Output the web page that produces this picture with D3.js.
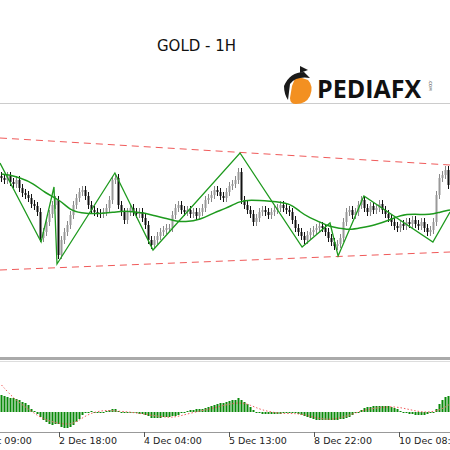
<!DOCTYPE html>
<html><head><meta charset="utf-8">
<script src="https://cdn.jsdelivr.net/npm/d3@7"></script>
<style>body{margin:0;background:#fff}svg{display:block}</style>
</head><body>
<svg id="chart" width="450" height="450"></svg>
<script>
// hourly closes, GOLD
var closes = [1784.4,1784,1784.8,1783.6,1783.2,1784,1782.4,1781.4,1781,1780.4,
  1779.2,1778.8,1777.6,1772.4,1773.6,1775.6,1777.2,1779,1780,1769,
  1772,1773.6,1775,1777,1779,1780.4,1781.6,1782,1780.8,1779,
  1778,1777.6,1777.4,1777.2,1777.6,1778.4,1780,1784,1784.4,1779,
  1777.6,1776,1777.6,1778.4,1777.6,1777.2,1777.6,1776.4,1775,1772,
  1771,1772,1772.8,1773.6,1774,1774.4,1774.4,1777,1778.4,1779,
  1778,1777.6,1778,1777.2,1777.6,1776.8,1777.6,1778.4,1780,1780.4,
  1781,1782,1781.6,1780.8,1780.4,1781.6,1782.8,1783.2,1784,1785.6,
  1780,1779,1778,1777.2,1775.6,1776.4,1777.6,1778,1777.6,1777,
  1777.6,1778,1778.4,1779,1778.4,1778,1777.6,1776,1774.4,1773.6,
  1772.8,1772,1773,1773.6,1774,1774.4,1774.8,1774.4,1773.6,1772.4,
  1771.6,1770.8,1771.2,1772.4,1775.6,1777.6,1778,1777,1777.6,1779,
  1780,1778.4,1777.6,1778.8,1778,1778.4,1779.2,1778,1777.2,1776.4,
  1775.6,1774.8,1774.4,1775.2,1774.8,1775.6,1775.2,1776,1775.2,1774.8,
  1775.6,1774.4,1773.6,1774,1775.6,1781,1784.4,1785,1786,1783];
var maIdx   = [0,2.8,6.2,10.5,14.5,19.5,22.8,26.2,32.8,37.8,41.2,44.5,47.8,51.2,54.5,57.8,61.2,66.2,71.2,74.5,79.5,82.8,89.5,96.2,99.5,102.8,106.2,109.5,112.8,116.2,119.5,124.5,129.5,132.8,137.8,142.8,146.2,149.5];
var maVal   = [1785.2,1785,1784.4,1783.4,1781.4,1780,1778,1777.4,1777.2,1777.6,1777.8,1777.6,1777.4,1776.8,1776.4,1775.8,1775.6,1776,1777.6,1778.2,1779.8,1780,1779.8,1779.4,1777.6,1776.4,1775.6,1774.6,1774.4,1774,1774.4,1775,1776,1777,1777.2,1777,1777.6,1778];
var zzIdx   = [-0.5,13.2,17.5,18.5,37.8,50.5,79.5,100.2,109.5,112.2,120.8,143.8,149.5];
var zzVal   = [1787.4,1771.6,1782.6,1767.2,1785.4,1770,1789.4,1770.6,1775.4,1768.8,1780.8,1771.6,1777.6];
var chanUp  = [[-0.5,1792.4],[149.5,1787]];
var chanDn  = [[-0.5,1766],[149.5,1769.6]];
var macd = [17,16,15,14,14,13,12,10,9,7, 3,1,-2,-5,-8,-10,-12,-13,-12,-12,
  -15,-16,-16,-15,-13,-10,-7,-3,-1,0, 1,0,-1,-1,0,1,2,3,3,1,
  0,-1,-1,-1,-1,-1,-2,-2,-3,-4, -6,-6,-6,-6,-5,-5,-5,-4,-4,-3,
  -1,0,1,2,2,3,3,3,4,5, 6,7,8,9,9,10,11,12,12,14,
  12,10,8,5,2,0,-1,-2,-2,-2, -2,-2,-2,-2,-1,-1,-1,0,-1,-2,
  -3,-4,-5,-6,-7,-8,-8,-8,-8,-8, -8,-8,-8,-7,-7,-6,-5,-3,-1,0,
  2,4,5,5,6,6,6,6,6,6, 5,4,3,1,0,-1,-2,-2,-3,-3,
  -3,-3,-2,-1,0,3,8,12,15,16];
var sigIdx = [0,4.5,9.5,13,18,23,26,29.5,34.5,38,43,49.5,56,59.5,64.5,69.5,74.5,79.5,83,86.5,93,99.5,104.5,109.5,114.5,119.5,124.5,131,136.5,141.5,146.5,149.5];
var sigVal = [27,12,2,-6,-11,-13,-8,-1,2,1,0,-3,-6,-4,0,3,7,10,7,2,-2,-1,-6,-8,-5,1,4,6,2,-1,2,8];
var tickIdx = [-9.2,19.2,47.5,75.8,104.2,132.5];
var tickLab = ["1 Dec 09:00","2 Dec 18:00","4 Dec 04:00","5 Dec 13:00","8 Dec 22:00","10 Dec 08:00"];

var svg = d3.select('#chart');
var x = d3.scaleLinear().domain([0,1]).range([1.5,4.5]);
var y = d3.scaleLinear().domain([1820,1760]).range([0,300]);
var ym = d3.scaleLinear().domain([-20,50]).range([432,362]);

// title + logo
svg.append('text').attr('x',157).attr('y',51).text('GOLD - 1H')
  .style('font-family','DejaVu Sans').style('font-size','15px').style('fill','#111');
svg.append('line').attr('x1',0).attr('x2',450).attr('y1',103.5).attr('y2',103.5).style('stroke','#ccc');
var logo = svg.append('g');
logo.append('path').attr('d','M296,76 L308,80 Q314,86 310,96 Q306,104 296,104 Q290,104 290,98 L292,86 Z').style('fill','#f39021');
logo.append('path').attr('d','M284,86 Q290,72 304,72 L310,78 Q296,76 290,84 L288,100 Q284,94 284,86 Z').style('fill','#1a1a1a');
logo.append('path').attr('d','M300,66 L308,70 L300,73 Z').style('fill','#1a1a1a');
logo.append('text').attr('x',317).attr('y',98).text('PEDIAFX')
  .style('font-family','Open Sans').style('font-weight','bold').style('font-size','25px').style('fill','#111');
logo.append('text').attr('transform','translate(429,80) rotate(90)').text('.COM')
  .style('font-family','DejaVu Sans').style('font-size','4px').style('fill','#333');

// channel
var cl = d3.line().x(d => x(d[0])).y(d => y(d[1]));
[chanUp, chanDn].forEach(function (c) {
  svg.append('path').attr('d', cl(c)).style('fill','none')
    .style('stroke','#f05a5a').style('stroke-dasharray','7,5').style('stroke-width',1);
});

// candles
var candles = closes.map(function (c, i) {
  var o = i ? closes[i-1] : c + 0.4;
  return {i: i, o: o, c: c, h: Math.max(o,c) + 0.8, l: Math.min(o,c) - 0.8};
});
var cg = svg.append('g').selectAll('g').data(candles).enter().append('g');
cg.append('line').attr('x1', d => x(d.i)).attr('x2', d => x(d.i))
  .attr('y1', d => y(d.h)).attr('y2', d => y(d.l))
  .style('stroke', d => d.c >= d.o ? '#888' : '#111');
cg.append('rect').attr('x', d => x(d.i) - 1).attr('width', 2)
  .attr('y', d => y(Math.max(d.o,d.c))).attr('height', d => Math.max(1, Math.abs(y(d.o)-y(d.c))))
  .style('fill', d => d.c >= d.o ? '#999' : '#111');

// moving average & zigzag
svg.append('path').attr('d', d3.line().curve(d3.curveBasis).x((d,i) => x(maIdx[i])).y(d => y(d))(maVal))
  .style('fill','none').style('stroke','#1e9a1e').style('stroke-width',1.5);
svg.append('path').attr('d', d3.line().x((d,i) => x(zzIdx[i])).y(d => y(d))(zzVal))
  .style('fill','none').style('stroke','#1e9a1e').style('stroke-width',1.3);

// separator
svg.append('rect').attr('x',0).attr('y',357).attr('width',450).attr('height',3).style('fill','#aaa');
svg.append('line').attr('x1',0).attr('x2',450).attr('y1',361.5).attr('y2',361.5).style('stroke','#ddd');

// macd histogram
svg.append('g').selectAll('rect').data(macd).enter().append('rect')
  .attr('x', (d,i) => x(i) - 1).attr('width', 2)
  .attr('y', d => Math.min(ym(d), ym(0))).attr('height', d => Math.max(1, Math.abs(ym(d) - ym(0))))
  .style('fill','#0a8a0a');
svg.append('path').attr('d', d3.line().curve(d3.curveBasis).x((d,i) => x(sigIdx[i])).y(d => ym(d))(sigVal))
  .style('fill','none').style('stroke','#f05a5a').style('stroke-dasharray','1.5,2').style('stroke-width',1);

// time axis
svg.append('line').attr('x1',0).attr('x2',450).attr('y1',432.5).attr('y2',432.5).style('stroke','#999');
var tk = svg.append('g').selectAll('g').data(tickIdx).enter().append('g');
tk.append('line').attr('x1', d => Math.round(x(d))+0.5).attr('x2', d => Math.round(x(d))+0.5)
  .attr('y1',432).attr('y2',437).style('stroke','#555');
tk.append('text').attr('x', d => x(d)).attr('y',444).text((d,i) => tickLab[i])
  .style('font-family','DejaVu Sans').style('font-size','9.5px').style('fill','#222');
</script>
</body></html>
